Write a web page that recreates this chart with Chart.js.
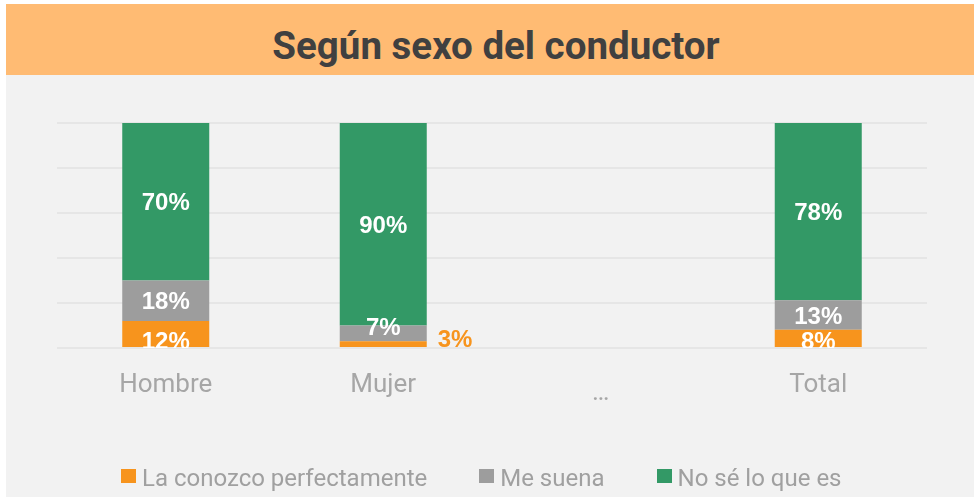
<!DOCTYPE html>
<html>
<head>
<meta charset="utf-8">
<script src="https://cdn.jsdelivr.net/npm/chart.js@4/dist/chart.umd.min.js"></script>
<style>
  html, body { margin: 0; padding: 0; background: #ffffff; }
  #wrap { position: relative; width: 974px; height: 497px; overflow: hidden; background: #ffffff; }
  #bg { position: absolute; left: 6px; top: 4px; right: 0; bottom: 0; background: #F2F2F2; }
  #band { position: absolute; left: 6px; top: 4px; right: 0; height: 71px; background: #FFBB73; }
  #title { position: absolute; left: 18px; right: 0; top: 23px; line-height: 38px; text-align: center;
           font: bold 38.5px Roboto, "Open Sans", sans-serif; color: #404040; white-space: nowrap; }
  #chart { position: absolute; left: 0; top: 0; }
  #legend { position: absolute; left: 121px; top: 466px; display: flex; gap: 52px; }
  .item { display: flex; align-items: flex-start; height: 24px; }
  .box { width: 15px; height: 14px; margin-top: 3px; margin-right: 6px; }
  .lbl { font: 24px Roboto, "Open Sans", sans-serif; line-height: 24px; color: #A0A0A0; white-space: nowrap; }
</style>
</head>
<body>
<div id="wrap">
  <div id="bg"></div>
  <div id="band"></div>
  <div id="title">Según sexo del conductor</div>
  <canvas id="chart" width="974" height="497"></canvas>
  <div id="legend"></div>
</div>
<script>
// ---- Data ----
const categories = ['Hombre', 'Mujer', '…', 'Total'];
const seriesNames = ['La conozco perfectamente', 'Me suena', 'No sé lo que es'];
const conozco = [12, 3, null, 8];
const meSuena = [18, 7, null, 13];
const noSe    = [70, 90, null, 78];
const yTicks  = [0, 20, 40, 60, 80, 100];

const seriesColors = ['#F7941D', '#9D9D9D', '#339966'];
const rawSeries = [conozco, meSuena, noSe];

// 100% stacked: normalise each category to its total
const totals = categories.map((_, i) => rawSeries.reduce((s, arr) => s + (arr[i] == null ? 0 : arr[i]), 0));
const datasets = rawSeries.map((arr, di) => ({
  label: seriesNames[di],
  data: arr.map((v, i) => v == null ? null : v / totals[i] * 100),
  backgroundColor: seriesColors[di],
  borderWidth: 0,
  barPercentage: 0.4,
  categoryPercentage: 1.0
}));

// ---- value labels plugin ----
const valueLabels = {
  id: 'valueLabels',
  afterDatasetsDraw(chart) {
    const { ctx, chartArea } = chart;
    ctx.save();
    ctx.font = 'bold 24px "Liberation Sans", Arial, sans-serif';
    ctx.textBaseline = 'middle';
    chart.data.datasets.forEach((ds, di) => {
      const meta = chart.getDatasetMeta(di);
      meta.data.forEach((bar, i) => {
        const v = rawSeries[di][i];
        if (v == null) return;
        const p = bar.getProps(['x', 'y', 'base', 'width'], true);
        const txt = v + '%';
        ctx.save();
        if (di === 0 && v < 5) {
          ctx.fillStyle = seriesColors[0];
          ctx.textAlign = 'left';
          ctx.fillText(txt, p.x + p.width / 2 + 11, p.base - 7);
        } else {
          ctx.beginPath();
          ctx.rect(chartArea.left, chartArea.top, chartArea.right - chartArea.left, chartArea.bottom - chartArea.top);
          ctx.clip();
          ctx.fillStyle = '#ffffff';
          ctx.textAlign = 'center';
          const h = p.base - p.y;
          const y = di === 0 ? p.base - 5 : (h < 20 ? p.y + 3 : (p.y + p.base) / 2 + 2);
          ctx.fillText(txt, p.x, y);
        }
        ctx.restore();
      });
    });
    ctx.restore();
  }
};

const chart = new Chart(document.getElementById('chart'), {
  type: 'bar',
  data: { labels: categories, datasets },
  options: {
    responsive: false,
    animation: false,
    devicePixelRatio: 1,
    layout: { padding: { left: 57, right: 47, top: 123, bottom: 89 } },
    plugins: { legend: { display: false }, title: { display: false }, tooltip: { enabled: false } },
    scales: {
      x: {
        stacked: true,
        grid: { display: false, drawTicks: false },
        border: { display: false },
        ticks: {
          padding: 22,
          color: '#A6A6A6',
          font: (c) => c.index === 2
            ? { family: 'Roboto', size: 26, lineHeight: 1.815 }
            : { family: 'Roboto', size: 26, lineHeight: 1.2 }
        },
        afterFit: (s) => { s.height = 60; }
      },
      y: {
        stacked: true,
        min: yTicks[0],
        max: yTicks[yTicks.length - 1],
        afterBuildTicks: (s) => { s.ticks = yTicks.map(v => ({ value: v })); },
        ticks: { display: false },
        grid: { color: '#E6E6E6', lineWidth: 2, drawTicks: false },
        border: { display: false },
        afterFit: (s) => { s.width = 0; }
      }
    }
  },
  plugins: [valueLabels]
});

// ---- HTML legend built from the series arrays ----
const legend = document.getElementById('legend');
seriesNames.forEach((name, i) => {
  const it = document.createElement('div'); it.className = 'item';
  const b = document.createElement('div'); b.className = 'box'; b.style.background = seriesColors[i];
  const t = document.createElement('div'); t.className = 'lbl'; t.textContent = name;
  it.appendChild(b); it.appendChild(t); legend.appendChild(it);
});
</script>
</body>
</html>
